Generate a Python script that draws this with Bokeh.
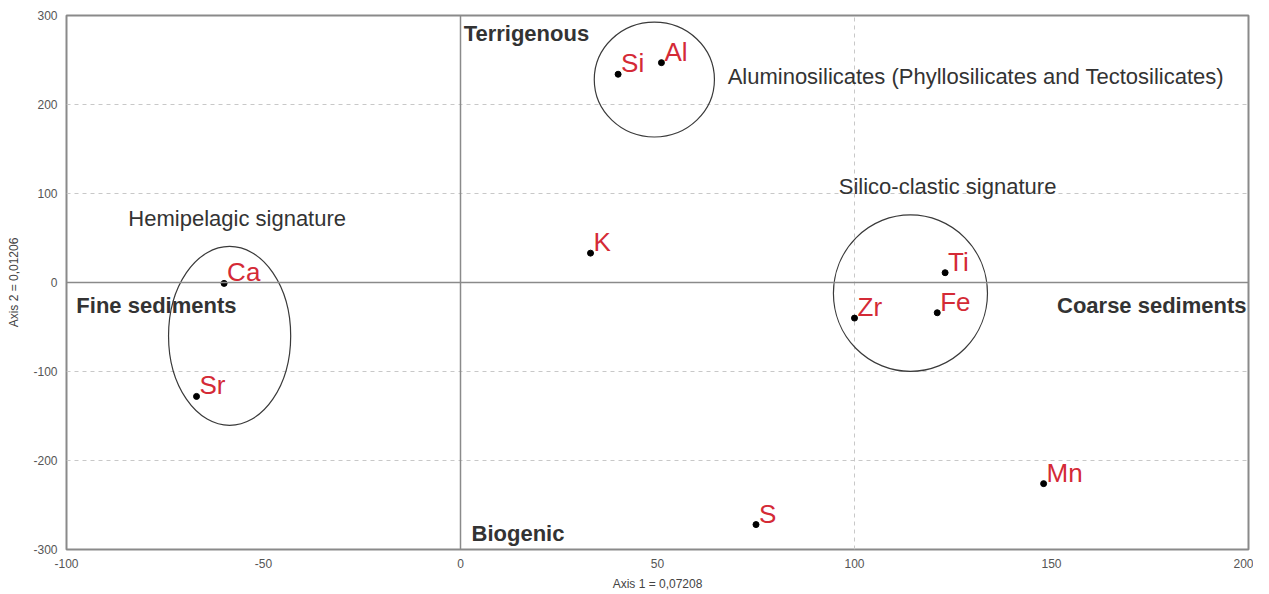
from bokeh.plotting import figure
from bokeh.models import Range1d, FixedTicker, Span, ColumnDataSource, Label, CustomJSTickFormatter
from bokeh.core.properties import value
from bokeh.embed import file_html
from bokeh.resources import INLINE

# Data
elements = ["Si", "Al", "K", "Ca", "Sr", "Ti", "Fe", "Zr", "Mn", "S"]
axis1 = [40, 51, 33, -60, -67, 123, 121, 100, 148, 75]
axis2 = [234, 247, 33, -1, -128, 11, -34, -40, -226, -272]

# groups (ellipses): center x, center y, width, height
group_names = ["Aluminosilicates", "Silico-clastic", "Hemipelagic"]
group_cx = [49.2, 114.2, -58.6]
group_cy = [228, -12, -60]
group_w = [30.5, 39.1, 31.0]
group_h = [129, 176, 201]

x_ticks = [-100, -50, 0, 50, 100, 150, 200]
y_ticks = [-300, -200, -100, 0, 100, 200, 300]

FONT = "Liberation Sans"
RED = "#d42a36"

p = figure(width=1253, height=586, frame_width=1182, frame_height=534,
           x_range=Range1d(-100, 200), y_range=Range1d(-300, 300),
           output_backend="svg", toolbar_location=None,
           min_border_left=66, min_border_top=15, min_border_right=5,
           min_border_bottom=5)

p.outline_line_color = "#8a8a8a"
p.outline_line_width = 2
p.background_fill_color = "white"

fmt = CustomJSTickFormatter(code="return tick.toString();")
for ax in (p.xaxis[0], p.yaxis[0]):
    ax.axis_line_color = None
    ax.major_tick_line_color = None
    ax.minor_tick_line_color = None
    ax.major_tick_out = 0
    ax.major_tick_in = 0
    ax.formatter = fmt
    ax.major_label_text_font = FONT
    ax.major_label_text_font_size = "12px"
    ax.major_label_text_color = "#555555"
    ax.axis_label_text_font = FONT
    ax.axis_label_text_font_size = "12px"
    ax.axis_label_text_font_style = "normal"
    ax.axis_label_text_color = "#444444"

p.xaxis.ticker = FixedTicker(ticks=x_ticks)
p.yaxis.ticker = FixedTicker(ticks=y_ticks)
p.xaxis.axis_label = "Axis 1 = 0,07208"
p.yaxis.axis_label = "Axis 2 = 0,01206"
p.xaxis.major_label_standoff = 9
p.yaxis.major_label_standoff = 9
p.xaxis.axis_label_standoff = 6
p.yaxis.axis_label_standoff = 9

p.xgrid.ticker = FixedTicker(ticks=[100])
p.ygrid.ticker = FixedTicker(ticks=[-200, -100, 100, 200])
for g in (p.xgrid[0], p.ygrid[0]):
    g.grid_line_color = "#c8c8c8"
    g.grid_line_dash = "4 4"
    g.grid_line_width = 1

p.add_layout(Span(location=0, dimension="width", line_color="#8a8a8a", line_width=1.5))
p.add_layout(Span(location=0, dimension="height", line_color="#8a8a8a", line_width=1.5))

# ellipses
gsrc = ColumnDataSource(dict(x=group_cx, y=group_cy, w=group_w, h=group_h))
p.ellipse(x="x", y="y", width="w", height="h", source=gsrc,
          fill_color=None, line_color="#3a3a3a", line_width=1.2)

src = ColumnDataSource(dict(x=axis1, y=axis2, name=elements))
p.scatter(x="x", y="y", source=src, size=6, color="black")
p.text(x="x", y="y", text="name", source=src, text_color=RED,
       text_font=value(FONT), text_font_size="26px",
       x_offset=3, y_offset=-11, text_baseline="alphabetic")

def lab(x, y, t, bold=False, align="left", size="22px", color="#333333"):
    p.add_layout(Label(x=x, y=y, text=t, text_font=FONT, text_font_size=size,
                       text_font_style="bold" if bold else "normal",
                       text_color=color, text_align=align, text_baseline="middle"))

lab(0.8, 280, "Terrigenous", bold=True)
lab(2.8, -282, "Biogenic", bold=True)
lab(-97.5, -26, "Fine sediments", bold=True)
lab(199.5, -26, "Coarse sediments", bold=True, align="right")
lab(67.8, 231, "Aluminosilicates (Phyllosilicates and Tectosilicates)")
lab(96, 108, "Silico-clastic signature")
lab(-84.3, 72, "Hemipelagic signature")

open("out.html", "w").write(file_html(p, INLINE))
